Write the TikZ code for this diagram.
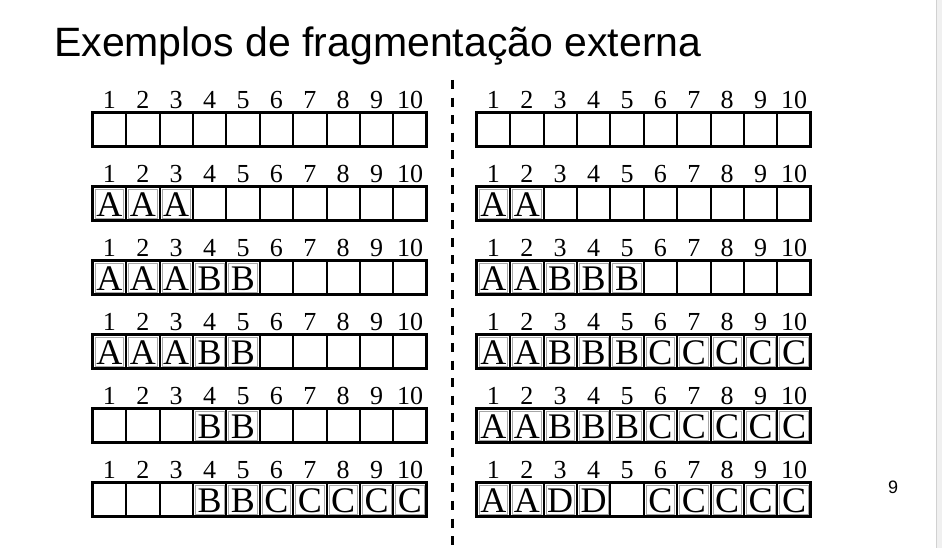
\documentclass[tikz,border=0pt]{standalone}
\usepackage{fontspec}
\setmainfont{Liberation Serif}
\newfontfamily\titlefont{Liberation Sans}
\def\emptycell{-}
\newcommand\memrow[4]{%
  \foreach \c [count=\i] in {#4} {
    \pgfmathsetmacro\xl{#2+(\i-1)*33.4}
    \node[numlbl] (#1n\i) at (\xl+16.7,#3-4.3) {\i};
    \ifx\c\emptycell\else
      \draw[innerfr] (\xl+2.4,#3+2.4) rectangle (\xl+33.4-2.4,#3+34-2.4);
      \node[cellltr] (#1c\i) at (\xl+16.7,#3+34-4.0) {\c};
    \fi
  }
  \foreach \i in {1,...,9} \draw[divider] (#2+\i*33.4,#3) -- (#2+\i*33.4,#3+34);
  \draw[frame] (#2,#3) rectangle (#2+334,#3+34);
}
\begin{document}
\begin{tikzpicture}[x=1pt,y=-1pt,
  numlbl/.style={font=\fontsize{26}{26}\selectfont, anchor=base, inner sep=0},
  cellltr/.style={font=\fontsize{36}{36}\selectfont, anchor=base, inner sep=0},
  frame/.style={line width=2.6pt},
  divider/.style={line width=2pt},
  innerfr/.style={line width=0.5pt, draw=black!35}]
\useasboundingbox (0,0) rectangle (942,548);
\fill[white] (0,0) rectangle (942,548);
\fill[black!6] (936,0) rectangle (942,548);
\draw[black!18, line width=1pt] (936,0) -- (936,548);
\node[font=\titlefont\fontsize{41}{41}\selectfont, anchor=base west, inner sep=0] (title) at (54,57) {Exemplos de fragmenta\c{c}\~ao externa};
\node[font=\titlefont\fontsize{18}{18}\selectfont, inner sep=0] (pagenum) at (893,487) {9};
\coordinate (dtop) at (452.7,80);
\coordinate (dbot) at (452.7,545);
\draw[line width=2.6pt, dash pattern=on 9pt off 8.54pt] (dtop) -- (dbot);
% left column
\memrow{La}{92.7}{112.7}{-,-,-,-,-,-,-,-,-,-}
\memrow{Lb}{92.7}{186.7}{A,A,A,-,-,-,-,-,-,-}
\memrow{Lc}{92.7}{260.6}{A,A,A,B,B,-,-,-,-,-}
\memrow{Ld}{92.7}{334.6}{A,A,A,B,B,-,-,-,-,-}
\memrow{Le}{92.7}{408.6}{-,-,-,B,B,-,-,-,-,-}
\memrow{Lf}{92.7}{482.6}{-,-,-,B,B,C,C,C,C,C}
% right column
\memrow{Ra}{476.7}{112.7}{-,-,-,-,-,-,-,-,-,-}
\memrow{Rb}{476.7}{186.7}{A,A,-,-,-,-,-,-,-,-}
\memrow{Rc}{476.7}{260.6}{A,A,B,B,B,-,-,-,-,-}
\memrow{Rd}{476.7}{334.6}{A,A,B,B,B,C,C,C,C,C}
\memrow{Re}{476.7}{408.6}{A,A,B,B,B,C,C,C,C,C}
\memrow{Rf}{476.7}{482.6}{A,A,D,D,-,C,C,C,C,C}
\end{tikzpicture}
\end{document}
